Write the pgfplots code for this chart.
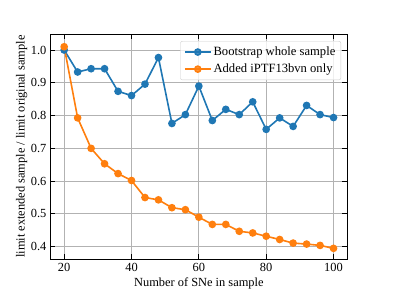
\documentclass[border=0pt]{standalone}
\usepackage{fontspec}
\setmainfont{Liberation Serif}
\usepackage{pgfplots}
\pgfplotsset{compat=1.18}
\definecolor{cblue}{HTML}{1F77B4}
\definecolor{corange}{HTML}{FF7F0E}
\begin{document}
\fontsize{12.4pt}{14pt}\selectfont
\begin{tikzpicture}[x=1pt,y=1pt]
\useasboundingbox (0,0) rectangle (407,305);
\begin{axis}[
  at={(50.7pt,46pt)}, anchor=south west,
  width=296.3pt, height=224.7pt, scale only axis,
  xmin=16, xmax=104, ymin=0.3625, ymax=1.048,
  xtick={20,40,60,80,100},
  ytick={0.4,0.5,0.6,0.7,0.8,0.9,1.0},
  yticklabel style={/pgf/number format/.cd,fixed,fixed zerofill,precision=1},
  /pgf/number format/assume math mode=true,
  tick align=inside, tick pos=both,
  major tick length=4.5pt,
  every tick/.style={black, line width=0.9pt},
  grid=major,
  major grid style={color=black!30, line width=0.9pt},
  axis line style={line width=0.9pt},
  xlabel={Number of SNe in sample},
  ylabel={limit extended sample / limit original sample},
  xlabel style={yshift=2pt},
  ylabel style={yshift=-5pt},
  tick label style={font=\fontsize{12.4pt}{14pt}\selectfont},
  label style={font=\fontsize{12.4pt}{14pt}\selectfont},
  legend style={at={(0.98,0.97)}, anchor=north east, draw=black!20, rounded corners=2pt, fill=white, fill opacity=0.8, text opacity=1, font=\fontsize{12.6pt}{14pt}\selectfont, row sep=2.5pt, inner sep=3.5pt},
  legend cell align=left,
  legend image code/.code={\draw[mark repeat=2,mark phase=2] plot coordinates {(0pt,0pt) (13pt,0pt) (26pt,0pt)};},
]
\addplot[cblue, line width=1.6pt, mark=*, mark size=3pt] coordinates {
(20,1.000) (24,0.933) (28,0.943) (32,0.943) (36,0.874) (40,0.861) (44,0.896) (48,0.977)
(52,0.776) (56,0.803) (60,0.890) (64,0.785) (68,0.819) (72,0.803) (76,0.842) (80,0.758)
(84,0.793) (88,0.767) (92,0.831) (96,0.803) (100,0.794)};
\addlegendentry{Bootstrap whole sample}
\addplot[corange, line width=1.6pt, mark=*, mark size=3pt] coordinates {
(20,1.010) (24,0.793) (28,0.700) (32,0.653) (36,0.623) (40,0.602) (44,0.550) (48,0.543)
(52,0.519) (56,0.513) (60,0.490) (64,0.468) (68,0.468) (72,0.447) (76,0.442) (80,0.432)
(84,0.422) (88,0.411) (92,0.408) (96,0.404) (100,0.395)};
\addlegendentry{Added iPTF13bvn only}
\end{axis}
\end{tikzpicture}
\end{document}
